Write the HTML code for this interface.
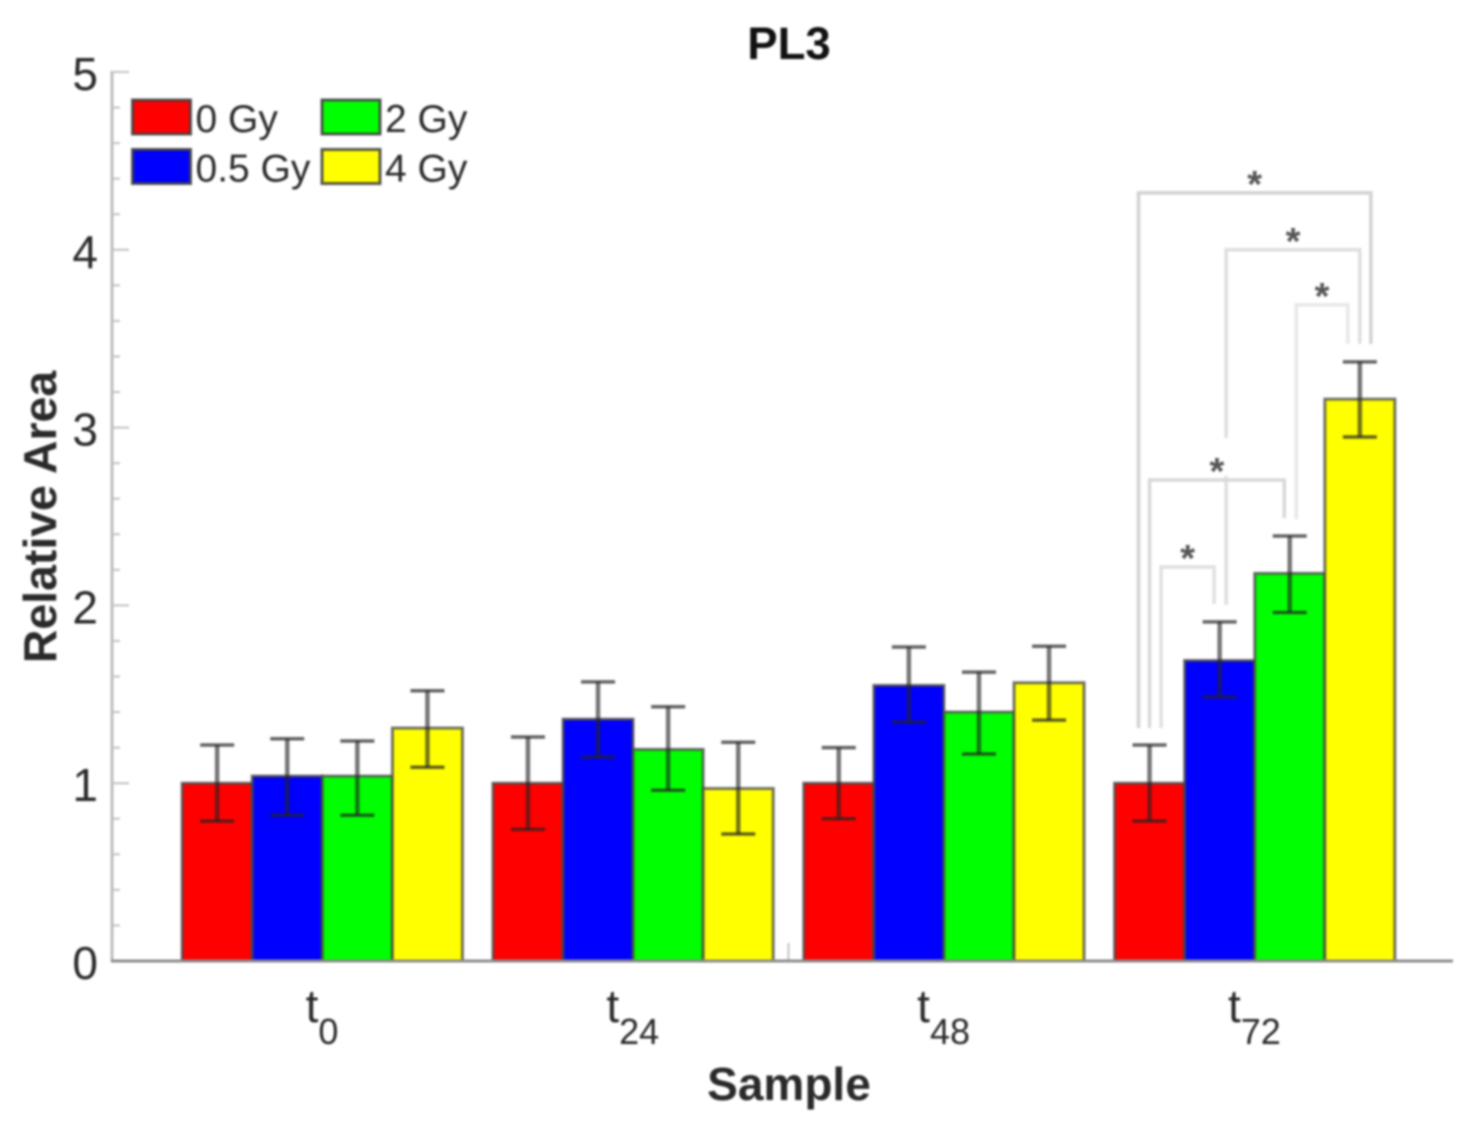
<!DOCTYPE html>
<html lang="en">
<head>
<meta charset="utf-8">
<title>PL3</title>
<style>
html,body{margin:0;padding:0;background:#fff;width:1479px;height:1135px;overflow:hidden}
svg{display:block;filter:blur(1.1px)}
text{font-family:"Liberation Sans",sans-serif}
</style>
</head>
<body>
<svg id="chart" xmlns="http://www.w3.org/2000/svg" width="1479" height="1135" viewBox="0 0 1479 1135">
  <rect x="0" y="0" width="1479" height="1135" fill="#fff"/>
  <text x="789" y="59" text-anchor="middle" font-size="45.5" font-weight="bold" fill="#111">PL3</text>
  <text transform="translate(56 517) rotate(-90)" text-anchor="middle" font-size="46.4" font-weight="bold" fill="#2a2a2a">Relative Area</text>
  <text x="789" y="1100" text-anchor="middle" font-size="46" font-weight="bold" fill="#2a2a2a">Sample</text>
</svg>
<script>
const categories = ["0", "24", "48", "72"];
const seriesNames = ["0 Gy", "0.5 Gy", "2 Gy", "4 Gy"];
const seriesColors = ["#ff0000", "#0000ff", "#00ff00", "#ffff00"];
const values0Gy = [1, 1, 1, 1];
const values05Gy = [1.04, 1.36, 1.55, 1.69];
const values2Gy = [1.04, 1.19, 1.40, 2.18];
const values4Gy = [1.31, 0.97, 1.565, 3.16];
const errorTop0Gy = [1.215, 1.26, 1.20, 1.215];
const errorTop05Gy = [1.25, 1.57, 1.766, 1.907];
const errorTop2Gy = [1.237, 1.43, 1.625, 2.39];
const errorTop4Gy = [1.52, 1.23, 1.77, 3.37];
const errorBottom0Gy = [0.787, 0.74, 0.80, 0.787];
const errorBottom05Gy = [0.82, 1.147, 1.344, 1.485];
const errorBottom2Gy = [0.82, 0.96, 1.164, 1.96];
const errorBottom4Gy = [1.09, 0.714, 1.355, 2.947];
const yTickLabels = [0, 1, 2, 3, 4, 5];
const yMinorStep = 0.2;
const bracketFrom = [0, 1, 2, 0, 0];
const bracketTo = [3, 3, 3, 2, 1];
const bracketLevels = [4.32, 4.0, 3.69, 2.705, 2.216];

const allValues = [values0Gy, values05Gy, values2Gy, values4Gy];
const allTops = [errorTop0Gy, errorTop05Gy, errorTop2Gy, errorTop4Gy];
const allBottoms = [errorBottom0Gy, errorBottom05Gy, errorBottom2Gy, errorBottom4Gy];

const svg = document.getElementById('chart');
const NS = 'http://www.w3.org/2000/svg';
function yScale(v) { return 961 - v * 177.8; }
function xCenter(c) { return 322.3 + c * 310.8; }
function xBar(c, s) { return xCenter(c) + (s - 1.5) * 70.1; }
function shape(tag) {
  const el = document.createElementNS(NS, tag);
  svg.appendChild(el);
  return el;
}
function put(el, props) {
  for (const k in props) el.setAttribute(k, props[k]);
  return el;
}

/* Y axis */
const yAxisLine = shape('line');


put(yAxisLine, {x1: 112, x2: 112, y1: yScale(5) - 1, y2: yScale(0), stroke: '#bdbdbd', 'stroke-width': 3});

const yMinorCount = Math.round(5 / yMinorStep);
for (let i = 0; i <= yMinorCount; i++) {
  const v = i * yMinorStep;
  const major = i % 5 === 0;
  const tick = shape('line');
  
  
  put(tick, {x1: 112, x2: major ? 129 : 120, y1: yScale(v), y2: yScale(v), stroke: '#c2c2c2', 'stroke-width': 2});
}
yTickLabels.forEach(function (v) {
  const t = shape('text');
  
  
  put(t, {x: 98, y: yScale(v) + 18, 'text-anchor': 'end', 'font-size': 46, fill: '#2a2a2a'});
  t.textContent = String(v);
});

/* Center tick on the x axis */
const xMidTick = shape('line');


put(xMidTick, {x1: xCenter(1.5), x2: xCenter(1.5), y1: 943, y2: 961, stroke: '#c4c4c4', 'stroke-width': 2});

/* Bars */
categories.forEach(function (cat, c) {
  allValues.forEach(function (vals, s) {
    const bar = shape('rect');
    
    
    put(bar, {
      x: xBar(c, s) - 35, y: yScale(vals[c]), width: 70, height: yScale(0) - yScale(vals[c]),
      fill: seriesColors[s], stroke: 'rgb(70,70,70)', 'stroke-opacity': 0.75, 'stroke-width': 3
    });
  });
});

/* X axis */
const xAxisLine = shape('line');


put(xAxisLine, {x1: 111, x2: 1453, y1: yScale(0), y2: yScale(0), stroke: '#8c8c8c', 'stroke-width': 3});

/* Error bars */
categories.forEach(function (cat, c) {
  allValues.forEach(function (vals, s) {
    const x = xBar(c, s);
    const top = yScale(allTops[s][c]);
    const bottom = yScale(allBottoms[s][c]);
    const stem = shape('line');
    
    
    put(stem, {x1: x, x2: x, y1: top, y2: bottom, stroke: '#222', 'stroke-opacity': 0.62, 'stroke-width': 4.5});
    [top, bottom].forEach(function (y) {
      const cap = shape('line');
      
      
      put(cap, {x1: x - 17, x2: x + 17, y1: y, y2: y, stroke: '#222', 'stroke-opacity': 0.7, 'stroke-width': 3.5});
    });
  });
});

/* X tick labels with subscripts */
categories.forEach(function (cat, c) {
  const t = shape('text');
  
  
  put(t, {x: xCenter(c) - 0.3, y: 1022, 'text-anchor': 'middle', 'font-size': 46, fill: '#2a2a2a'});
  const main = document.createElementNS(NS, 'tspan');
  main.textContent = 't';
  const sub = document.createElementNS(NS, 'tspan');
  sub.setAttribute('font-size', '36');
  sub.setAttribute('dy', '22');
  sub.textContent = cat;
  t.appendChild(main);
  t.appendChild(sub);
});

/* Significance brackets on the last time point */
const lastCat = categories.length - 1;
const fromOffsets = [-11, 6.5, 6.5, 0, 11.5];
const toOffsets = [11, 0, -12, -5.5, -5.5];
const bracketColors = ['#d2d2d2', '#dedede', '#e8e8e8', '#d8d8d8', '#e0e0e0'];
bracketLevels.forEach(function (level, b) {
  const x1 = xBar(lastCat, bracketFrom[b]) + fromOffsets[b];
  const x2 = xBar(lastCat, bracketTo[b]) + toOffsets[b];
  const yTop = yScale(level);
  const yLeft = yScale(allTops[bracketFrom[b]][lastCat]) - 17;
  const yRight = yScale(allTops[bracketTo[b]][lastCat]) - 18;
  const xMid = (x1 + x2) / 2;
  if (b === 3) {
    const gap = shape('rect');
    
    
    put(gap, {x: xMid - 12, y: yTop - 42, width: 26, height: 38, fill: '#fff'});
  }
  const path = shape('path');
  
  
  put(path, {
    d: 'M' + x1 + ' ' + yLeft + 'V' + yTop + 'H' + x2 + 'V' + yRight,
    fill: 'none', stroke: bracketColors[b], 'stroke-width': 3.5
  });
  const star = shape('text');
  
  
  put(star, {x: xMid, y: yTop + 4, 'text-anchor': 'middle', 'font-size': 38, 'font-weight': 'bold', fill: '#555'});
  star.textContent = '*';
});

/* Legend */
seriesNames.forEach(function (name, s) {
  const col = s === 0 || s === 1 ? 0 : 1;
  const row = s === 0 || s === 2 ? 0 : 1;
  const lx = 132.5 + col * 189.5;
  const ly = 100 + row * 49.5;
  const swatch = shape('rect');
  
  
  put(swatch, {x: lx, y: ly, width: 58, height: 34, fill: seriesColors[s], stroke: 'rgb(60,60,60)', 'stroke-opacity': 0.85, 'stroke-width': 3});
  const label = shape('text');
  
  
  put(label, {x: lx + 63, y: ly + 32, 'font-size': 39, fill: '#2a2a2a'});
  label.textContent = name;
});
</script>
</body>
</html>
